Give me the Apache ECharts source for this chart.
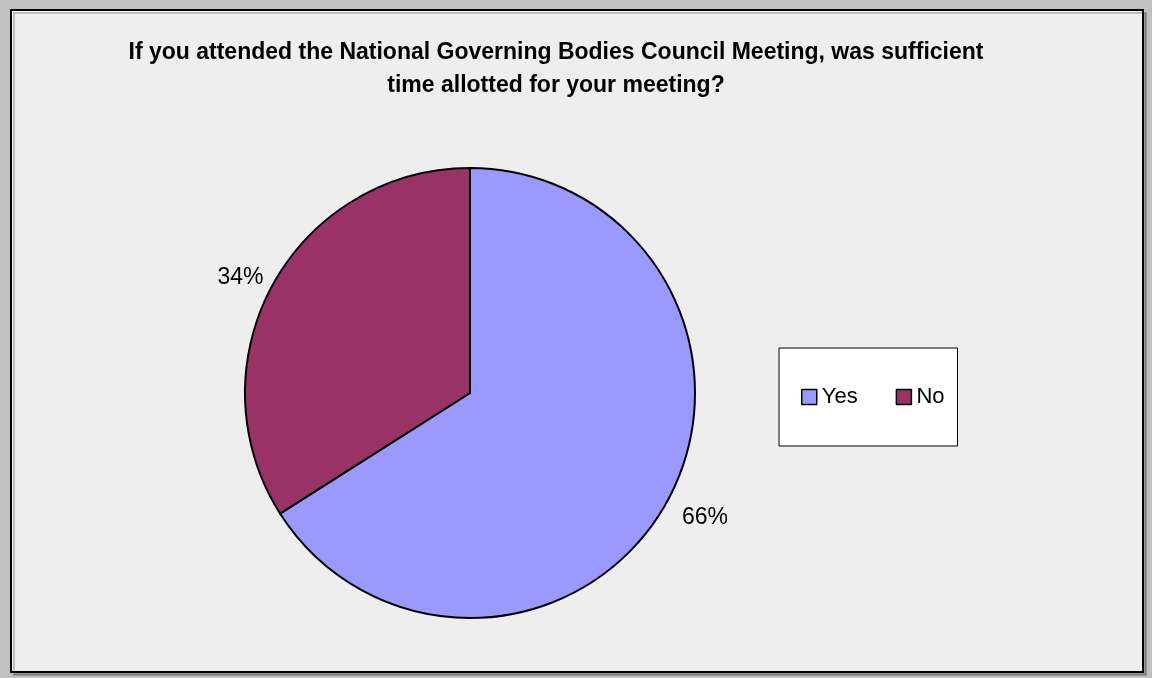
<!DOCTYPE html>
<html>
<head>
<meta charset="utf-8">
<script src="https://cdn.jsdelivr.net/npm/echarts@6/dist/echarts.min.js"></script>
<style>
html,body{margin:0;padding:0;background:#c0c0c0;}
#chart{width:1152px;height:678px;}
</style>
</head>
<body>
<div id="chart"></div>
<script>
const titleText = "If you attended the National Governing Bodies Council Meeting, was sufficient\ntime allotted for your meeting?";
const categories = ["Yes", "No"];
const values = [66, 34];
const colors = ["#9999FF", "#993366"];

const labelTweaks = [
  { length: 34, length2: -15 },
  { length: 14, length2: -3 }
];

const chart = echarts.init(document.getElementById('chart'));
const FONT = '"Liberation Sans", Arial, sans-serif';

chart.setOption({
  backgroundColor: '#c0c0c0',
  animation: false,
  graphic: [{
    type: 'rect',
    z: -10,
    shape: { x: 11, y: 10, width: 1132, height: 662 },
    style: { fill: '#eeeeee', stroke: '#000', lineWidth: 2,
             shadowColor: 'rgba(0,0,0,0.2)', shadowOffsetX: 3, shadowOffsetY: 3, shadowBlur: 0 }
  }],
  title: {
    text: titleText,
    left: 551,
    top: 31,
    textAlign: 'center',
    textStyle: { fontFamily: FONT, fontWeight: 'bold', fontSize: 23, color: '#000', lineHeight: 33 }
  },
  legend: {
    data: categories,
    orient: 'horizontal',
    left: 779,
    top: 348,
    backgroundColor: '#ffffff',
    borderColor: '#000',
    borderWidth: 1,
    padding: [38, 13, 38, 22],
    itemGap: 38,
    itemWidth: 15,
    itemHeight: 15,
    icon: 'rect',
    itemStyle: { borderColor: '#000', borderWidth: 1.5 },
    textStyle: { fontFamily: FONT, fontSize: 22, color: '#000' }
  },
  series: [{
    type: 'pie',
    center: [470, 393],
    radius: 225,
    startAngle: 90,
    clockwise: true,
    avoidLabelOverlap: false,
    itemStyle: { borderColor: '#000', borderWidth: 2 },
    label: {
      show: true,
      position: 'outside',
      formatter: '{d}%',
      fontFamily: FONT,
      fontSize: 23,
      color: '#000',
      distanceToLabelLine: 0
    },
    labelLine: { show: false },
    emphasis: { disabled: true },
    data: categories.map((c, i) => ({
      name: c,
      value: values[i],
      itemStyle: { color: colors[i] },
      labelLine: { show: false, length: labelTweaks[i].length, length2: labelTweaks[i].length2 }
    }))
  }]
});
</script>
</body>
</html>
